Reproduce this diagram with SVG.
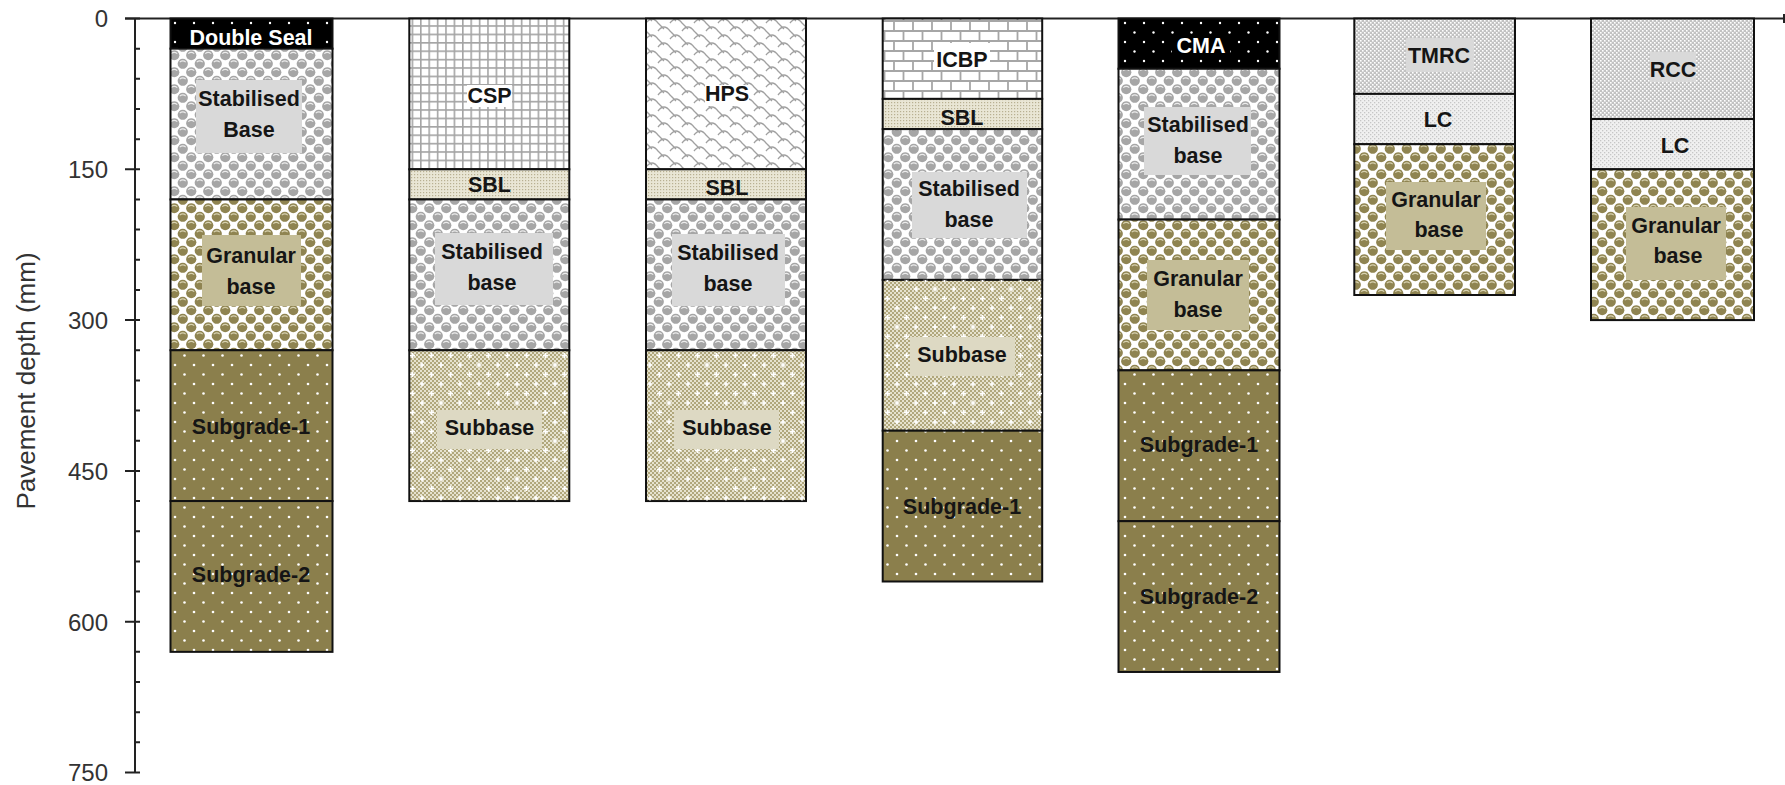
<svg xmlns="http://www.w3.org/2000/svg" xmlns:xlink="http://www.w3.org/1999/xlink" width="1785" height="785" viewBox="0 0 1785 785">
<style>
.lbl{font-family:"Liberation Sans",Arial,sans-serif;font-weight:bold;font-size:21.5px;fill:#151515;text-anchor:middle}
.wl{fill:#ffffff}
.tick{font-family:"Liberation Sans",Arial,sans-serif;font-size:24px;fill:#333;text-anchor:end}
.ttl{font-family:"Liberation Sans",Arial,sans-serif;font-size:26px;fill:#333;text-anchor:middle}
.lay{stroke:#111;stroke-width:2}
.ax{stroke:#222;stroke-width:2;fill:none}
</style>
<defs>
<g id="sphG"><circle r="5.1" fill="#a6a6a6"/><path d="M-3,-1.6 q3,-2.4 6,0" stroke="#ececec" stroke-width="1.2" fill="none"/></g>
<g id="sphO"><circle r="5.1" fill="#8f8451"/><path d="M-3,-1.6 q3,-2.4 6,0" stroke="#d8d2b0" stroke-width="1.2" fill="none"/></g>
<pattern id="pStab" width="17" height="17" patternUnits="userSpaceOnUse">
<rect width="17" height="17" fill="#fff"/>
<use xlink:href="#sphG" x="4.25" y="4.25"/><use xlink:href="#sphG" x="21.25" y="4.25"/><use xlink:href="#sphG" x="4.25" y="21.25"/><use xlink:href="#sphG" x="21.25" y="21.25"/>
<use xlink:href="#sphG" x="12.75" y="12.75"/><use xlink:href="#sphG" x="-4.25" y="12.75"/><use xlink:href="#sphG" x="12.75" y="-4.25"/><use xlink:href="#sphG" x="-4.25" y="-4.25"/>
</pattern>
<pattern id="pGran" width="17" height="17" patternUnits="userSpaceOnUse">
<rect width="17" height="17" fill="#fff"/>
<use xlink:href="#sphO" x="4.25" y="4.25"/><use xlink:href="#sphO" x="21.25" y="4.25"/><use xlink:href="#sphO" x="4.25" y="21.25"/><use xlink:href="#sphO" x="21.25" y="21.25"/>
<use xlink:href="#sphO" x="12.75" y="12.75"/><use xlink:href="#sphO" x="-4.25" y="12.75"/><use xlink:href="#sphO" x="12.75" y="-4.25"/><use xlink:href="#sphO" x="-4.25" y="-4.25"/>
</pattern>
<pattern id="pSubg" width="19" height="19" patternUnits="userSpaceOnUse">
<rect width="19" height="19" fill="#8b7f4c"/>
<circle cx="4" cy="4" r="1.3" fill="#fff"/><circle cx="13.5" cy="13.5" r="1.3" fill="#fff"/>
</pattern>
<pattern id="pBlk" width="19" height="19" patternUnits="userSpaceOnUse">
<rect width="19" height="19" fill="#000"/>
<circle cx="4" cy="4" r="1.2" fill="#fff"/><circle cx="13.5" cy="13.5" r="1.2" fill="#fff"/>
</pattern>
<pattern id="pChk" width="4" height="4" patternUnits="userSpaceOnUse">
<rect width="4" height="4" fill="#e6e2ce"/>
<rect width="2" height="2" fill="#b0a77c"/><rect x="2" y="2" width="2" height="2" fill="#b0a77c"/>
</pattern>
<pattern id="pCross" width="19" height="19" patternUnits="userSpaceOnUse">
<path d="M4,1.5v5M1.5,4h5M13.5,11v5M11,13.5h5" stroke="#fff" stroke-width="1.6"/>
</pattern>
<pattern id="pSBL" width="3" height="3" patternUnits="userSpaceOnUse">
<rect width="3" height="3" fill="#e9e6d5"/><rect width="1.2" height="1.2" fill="#b8b092"/>
</pattern>
<pattern id="pTM" width="4" height="4" patternUnits="userSpaceOnUse">
<rect width="4" height="4" fill="#c2c2c2"/>
<rect width="1.6" height="1.6" fill="#fff"/><rect x="2" y="2" width="1.6" height="1.6" fill="#fff"/>
</pattern>
<pattern id="pLC" width="4" height="4" patternUnits="userSpaceOnUse">
<rect width="4" height="4" fill="#f0f0f0"/>
<rect width="1.3" height="1.3" fill="#c6c6c6"/><rect x="2" y="2" width="1.3" height="1.3" fill="#c6c6c6"/>
</pattern>
<pattern id="pGrid" width="8.4" height="8.4" patternUnits="userSpaceOnUse">
<rect width="8.4" height="8.4" fill="#fff"/>
<path d="M0.8,0V8.4M0,0.8H8.4" stroke="#a4a4a4" stroke-width="1.6"/>
</pattern>
<pattern id="pBrick" width="19" height="20" patternUnits="userSpaceOnUse">
<rect width="19" height="20" fill="#fff"/>
<path d="M0,1H19M0,11H19M1,1V11M10.5,11V20" stroke="#a6a6a6" stroke-width="1.8"/>
</pattern>
<pattern id="pScale" width="24" height="16" patternUnits="userSpaceOnUse">
<rect width="24" height="16" fill="#fff"/>
<g stroke="#a0a0a0" stroke-width="1.3" fill="none">
<path d="M-2,7 Q4,-1 10,7 L16,13"/>
<path d="M22,7 Q28,-1 34,7"/>
<path d="M10,15 Q16,7 22,15 L28,21"/>
<path d="M-14,15 Q-8,7 -2,15 L4,21"/>
<path d="M10,-1 Q16,-9 22,-1 L28,5"/>
<path d="M-14,-1 Q-8,-9 -2,-1 L4,5"/>
<path d="M-2,23 Q4,15 10,23"/>
</g>
</pattern>
</defs>

<rect width="1785" height="785" fill="#fff"/>

<g id="axes">
<line class="ax" x1="125" y1="18.5" x2="1785" y2="18.5"/>
<line class="ax" x1="1784" y1="14" x2="1784" y2="23"/>
<line class="ax" x1="135" y1="18.5" x2="135" y2="772.5"/>
<path class="ax" d="M125,18.5H140M125,169.3H140M125,320.1H140M125,470.9H140M125,621.7H140M125,772.5H140"/>
<path class="ax" d="M135,48.66h5M135,78.82h5M135,108.98h5M135,139.14h5M135,199.46h5M135,229.62h5M135,259.78h5M135,289.94h5M135,350.26h5M135,380.42h5M135,410.58h5M135,440.74h5M135,501.06h5M135,531.22h5M135,561.38h5M135,591.54h5M135,651.86h5M135,682.02h5M135,712.18h5M135,742.34h5"/>
<text class="tick" x="108" y="27">0</text>
<text class="tick" x="108" y="178">150</text>
<text class="tick" x="108" y="329">300</text>
<text class="tick" x="108" y="479.5">450</text>
<text class="tick" x="108" y="630.5">600</text>
<text class="tick" x="108" y="781">750</text>
<text class="ttl" transform="translate(35,381) rotate(-90)">Pavement depth (mm)</text>
</g>

<g id="col1">
<rect class="lay" x="170.5" y="18.5" width="162" height="30.16" fill="url(#pBlk)"/>
<rect class="lay" x="170.5" y="48.66" width="162" height="150.8" fill="url(#pStab)"/>
<rect class="lay" x="170.5" y="199.46" width="162" height="150.8" fill="url(#pGran)"/>
<rect class="lay" x="170.5" y="350.26" width="162" height="150.8" fill="url(#pSubg)"/>
<rect class="lay" x="170.5" y="501.06" width="162" height="150.8" fill="url(#pSubg)"/>
<rect x="178" y="28" width="146" height="20" fill="#000"/>
<text class="lbl wl" x="251" y="45">Double Seal</text>
<rect x="196" y="80" width="106" height="73" fill="#d9d9d9"/>
<text class="lbl" x="249" y="106">Stabilised</text>
<text class="lbl" x="249" y="137">Base</text>
<rect x="202" y="235" width="99" height="71" fill="#c4bd97"/>
<text class="lbl" x="251" y="263">Granular</text>
<text class="lbl" x="251" y="294">base</text>
<text class="lbl" x="251" y="434">Subgrade-1</text>
<text class="lbl" x="251" y="582">Subgrade-2</text>
</g>

<g id="col2">
<rect class="lay" x="409.3" y="18.5" width="160" height="150.8" fill="url(#pGrid)"/>
<rect class="lay" x="409.3" y="169.3" width="160" height="30.16" fill="url(#pSBL)"/>
<rect class="lay" x="409.3" y="199.46" width="160" height="150.8" fill="url(#pStab)"/>
<rect class="lay" x="409.3" y="350.26" width="160" height="150.8" fill="url(#pChk)"/>
<rect x="409.3" y="350.26" width="160" height="150.8" fill="url(#pCross)"/>
<rect x="467" y="85" width="45" height="22" fill="#fff"/>
<text class="lbl" x="489.5" y="103">CSP</text>
<text class="lbl" x="489.5" y="192">SBL</text>
<rect x="435" y="233" width="118" height="72" fill="#d9d9d9"/>
<text class="lbl" x="492" y="259">Stabilised</text>
<text class="lbl" x="492" y="290">base</text>
<rect x="437" y="410" width="105" height="39" fill="#ddd9c3"/>
<text class="lbl" x="489.5" y="435">Subbase</text>
</g>

<g id="col3">
<rect class="lay" x="646" y="18.5" width="160" height="150.8" fill="url(#pScale)"/>
<rect class="lay" x="646" y="169.3" width="160" height="30.16" fill="url(#pSBL)"/>
<rect class="lay" x="646" y="199.46" width="160" height="150.8" fill="url(#pStab)"/>
<rect class="lay" x="646" y="350.26" width="160" height="150.8" fill="url(#pChk)"/>
<rect x="646" y="350.26" width="160" height="150.8" fill="url(#pCross)"/>
<rect x="705" y="85" width="44" height="21" fill="#fff"/>
<text class="lbl" x="727" y="101">HPS</text>
<text class="lbl" x="727" y="195">SBL</text>
<rect x="672" y="234" width="113" height="72" fill="#d9d9d9"/>
<text class="lbl" x="728" y="260">Stabilised</text>
<text class="lbl" x="728" y="291">base</text>
<rect x="674" y="410" width="105" height="39" fill="#ddd9c3"/>
<text class="lbl" x="727" y="435">Subbase</text>
</g>

<g id="col4">
<rect class="lay" x="882.7" y="18.5" width="159.5" height="80.4" fill="url(#pBrick)"/>
<rect class="lay" x="882.7" y="98.9" width="159.5" height="30.2" fill="url(#pSBL)"/>
<rect class="lay" x="882.7" y="129.1" width="159.5" height="150.8" fill="url(#pStab)"/>
<rect class="lay" x="882.7" y="279.9" width="159.5" height="150.8" fill="url(#pChk)"/>
<rect x="882.7" y="279.9" width="159.5" height="150.8" fill="url(#pCross)"/>
<rect class="lay" x="882.7" y="430.7" width="159.5" height="150.8" fill="url(#pSubg)"/>
<rect x="934" y="43" width="56" height="27" fill="#fff"/>
<text class="lbl" x="962" y="67">ICBP</text>
<text class="lbl" x="962" y="125">SBL</text>
<rect x="912" y="172" width="115" height="66" fill="#d9d9d9"/>
<text class="lbl" x="969" y="196">Stabilised</text>
<text class="lbl" x="969" y="227">base</text>
<rect x="910" y="337" width="105" height="39" fill="#ddd9c3"/>
<text class="lbl" x="962" y="362">Subbase</text>
<text class="lbl" x="962" y="514">Subgrade-1</text>
</g>

<g id="col5">
<rect class="lay" x="1118.5" y="18.5" width="161" height="50.27" fill="url(#pBlk)"/>
<rect class="lay" x="1118.5" y="68.77" width="161" height="150.8" fill="url(#pStab)"/>
<rect class="lay" x="1118.5" y="219.57" width="161" height="150.8" fill="url(#pGran)"/>
<rect class="lay" x="1118.5" y="370.37" width="161" height="150.8" fill="url(#pSubg)"/>
<rect class="lay" x="1118.5" y="521.17" width="161" height="150.8" fill="url(#pSubg)"/>
<rect x="1172" y="34" width="58" height="24" fill="#000"/>
<text class="lbl wl" x="1201" y="53">CMA</text>
<rect x="1144" y="107" width="107" height="68" fill="#d9d9d9"/>
<text class="lbl" x="1198" y="132">Stabilised</text>
<text class="lbl" x="1198" y="163">base</text>
<rect x="1147" y="260" width="102" height="70" fill="#c4bd97"/>
<text class="lbl" x="1198" y="286">Granular</text>
<text class="lbl" x="1198" y="317">base</text>
<text class="lbl" x="1199" y="452">Subgrade-1</text>
<text class="lbl" x="1199" y="604">Subgrade-2</text>
</g>

<g id="col6">
<rect class="lay" x="1354.3" y="18.5" width="160.7" height="75.4" fill="url(#pTM)"/>
<rect class="lay" x="1354.3" y="93.9" width="160.7" height="50.3" fill="url(#pLC)"/>
<rect class="lay" x="1354.3" y="144.2" width="160.7" height="150.8" fill="url(#pGran)"/>
<rect x="1406" y="38" width="68" height="34" fill="#d9d9d9"/>
<text class="lbl" x="1439" y="63">TMRC</text>
<text class="lbl" x="1438" y="127">LC</text>
<rect x="1386" y="182" width="100" height="68" fill="#c4bd97"/>
<text class="lbl" x="1436" y="207">Granular</text>
<text class="lbl" x="1439" y="237">base</text>
</g>

<g id="col7">
<rect class="lay" x="1591" y="18.5" width="163" height="100.5" fill="url(#pTM)"/>
<rect class="lay" x="1591" y="119" width="163" height="50.3" fill="url(#pLC)"/>
<rect class="lay" x="1591" y="169.3" width="163" height="150.8" fill="url(#pGran)"/>
<rect x="1650" y="52" width="46" height="30" fill="#d9d9d9"/>
<text class="lbl" x="1673" y="77">RCC</text>
<text class="lbl" x="1675" y="153">LC</text>
<rect x="1626" y="207" width="100" height="73" fill="#c4bd97"/>
<text class="lbl" x="1676" y="233">Granular</text>
<text class="lbl" x="1678" y="263">base</text>
</g>
</svg>
